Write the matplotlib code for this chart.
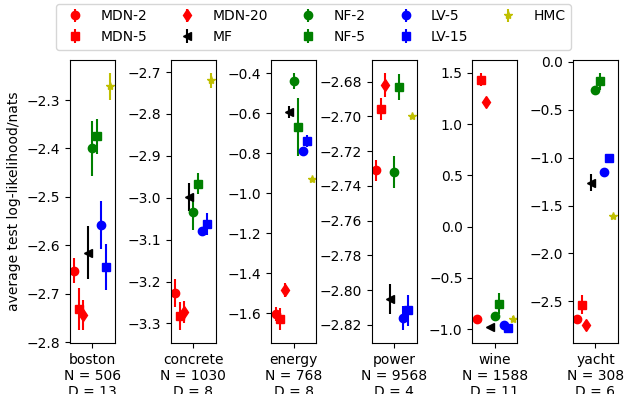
import matplotlib
matplotlib.use('Agg')
from matplotlib import pyplot as plt

methods = ['MDN-2', 'MDN-5', 'MDN-20', 'MF', 'NF-2', 'NF-5', 'LV-5', 'LV-15', 'HMC']
colors = ['r', 'r', 'r', 'k', 'g', 'g', 'b', 'b', 'y']
markers = ['o', 's', 'd', '<', 'o', 's', 'o', 's', '*']

datasets = ['boston', 'concrete', 'energy', 'power', 'wine', 'yacht']
n_points = [506, 1030, 768, 9568, 1588, 308]
n_dims = [13, 8, 8, 4, 11, 6]

# mean test log-likelihood and error, one entry per method
boston_mu = [-2.652, -2.732, -2.743, -2.615, -2.400, -2.375, -2.558, -2.645, -2.272]
boston_err = [0.026, 0.043, 0.031, 0.055, 0.057, 0.036, 0.049, 0.047, 0.028]
concrete_mu = [-3.227, -3.283, -3.273, -2.999, -3.035, -2.967, -3.080, -3.063, -2.720]
concrete_err = [0.033, 0.033, 0.026, 0.033, 0.043, 0.025, 0.011, 0.026, 0.018]
energy_mu = [-1.605, -1.630, -1.483, -0.595, -0.438, -0.670, -0.787, -0.738, -0.930]
energy_err = [0.035, 0.055, 0.035, 0.030, 0.040, 0.144, 0.020, 0.030, 0.010]
power_mu = [-2.731, -2.696, -2.682, -2.805, -2.732, -2.683, -2.816, -2.8115, -2.700]
power_err = [0.006, 0.0063, 0.007, 0.0087, 0.009, 0.0076, 0.007, 0.009, 0.001]
wine_mu = [-0.905, 1.436, 1.214, -0.980, -0.868, -0.752, -0.962, -0.990, -0.905]
wine_err = [0.02, 0.065, 0.04, 0.01, 0.02, 0.10, 0.02, 0.02, 0.03]
yacht_mu = [-2.685, -2.535, -2.750, -1.262, -0.296, -0.206, -1.147, -1.008, -1.611]
yacht_err = [0.03, 0.10, 0.05, 0.09, 0.03, 0.09, 0.02, 0.02, 0.02]

all_mu = [boston_mu, concrete_mu, energy_mu, power_mu, wine_mu, yacht_mu]
all_err = [boston_err, concrete_err, energy_err, power_err, wine_err, yacht_err]

fig, axes = plt.subplots(1, 6, figsize=(6.27, 3.94))
plt.subplots_adjust(left=0.1116, right=0.9856, top=0.8477, bottom=0.1294, wspace=1.236)

for i, ax in enumerate(axes):
    for j in range(len(methods)):
        ax.errorbar(j, all_mu[i][j], yerr=all_err[i][j], fmt=markers[j],
                    color=colors[j], label=methods[j])
    ax.set_xlim(-1, 9)
    ax.set_xticks([4])
    ax.set_xticklabels(['%s\nN = %d\nD = %d' % (datasets[i], n_points[i], n_dims[i])])

axes[0].set_ylabel('average test log-likelihood/nats')

handles, labels = axes[0].get_legend_handles_labels()
fig.legend(handles, labels, loc='upper center', ncol=5,
           bbox_to_anchor=(0.5, 1.008), columnspacing=1.9)

plt.savefig('out.png', dpi=100)
